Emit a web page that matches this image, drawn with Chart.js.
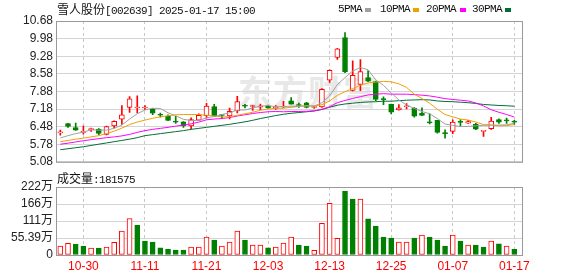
<!DOCTYPE html>
<html>
<head>
<meta charset="utf-8">
<script src="https://cdn.jsdelivr.net/npm/chart.js@4.4.1/dist/chart.umd.min.js"></script>
<style>
body{margin:0;background:#fff;}
#wrap{position:relative;width:578px;height:276px;overflow:hidden;font-family:"Noto Sans CJK SC",sans-serif;}
canvas{position:absolute;left:0;}
.txt{position:absolute;font-size:12px;line-height:14px;color:#111;white-space:nowrap;}
.mono{font-family:"Liberation Mono",monospace;font-size:11px;letter-spacing:-0.6px;}
.sw{position:absolute;width:6px;height:4px;}
#wm{position:absolute;left:238px;top:66px;font-size:34px;font-weight:bold;color:#e8e8e8;letter-spacing:1px;white-space:nowrap;}
</style>
</head>
<body>
<div id="wrap">
  <div id="wm">东方财富</div>
  <canvas id="kline" width="578" height="172" style="top:0"></canvas>
  <canvas id="volume" width="578" height="106" style="top:170px"></canvas>

  <div class="txt" style="left:57px;top:2px">雪人股份<span class="mono">[002639] 2025-01-17 15:00</span></div>

  <div class="txt mono" style="left:338px;top:2px">5PMA</div>
  <div class="sw" style="left:365px;top:8px;background:#a0a0a0"></div>
  <div class="txt mono" style="left:380px;top:2px">10PMA</div>
  <div class="sw" style="left:413px;top:8px;background:#f0a000"></div>
  <div class="txt mono" style="left:426px;top:2px">20PMA</div>
  <div class="sw" style="left:460px;top:8px;background:#ff00ff"></div>
  <div class="txt mono" style="left:472px;top:2px">30PMA</div>
  <div class="sw" style="left:505px;top:8px;background:#006f35"></div>

  <div class="txt" style="left:57px;top:171px">成交量<span class="mono">:181575</span></div>
</div>
<script>
const dates = ['10-25','10-28','10-29','10-30','10-31','11-01','11-04','11-05','11-06','11-07',
  '11-08','11-11','11-12','11-13','11-14','11-15','11-18','11-19','11-20','11-21',
  '11-22','11-25','11-26','11-27','11-28','11-29','12-02','12-03','12-04','12-05',
  '12-06','12-09','12-10','12-11','12-12','12-13','12-16','12-17','12-18','12-19',
  '12-20','12-23','12-24','12-25','12-26','12-27','12-30','12-31','01-02','01-03',
  '01-06','01-07','01-08','01-09','01-10','01-13','01-14','01-15','01-16','01-17']
const opens = [6.23,6.60,6.44,6.25,6.36,6.38,6.17,6.51,6.78,7.24,
  7.22,7.22,7.19,6.94,6.89,6.70,6.67,6.51,6.74,6.91,
  7.28,6.93,6.90,7.10,7.31,7.28,7.25,7.30,7.20,7.25,
  7.50,7.34,7.43,7.24,7.26,8.33,9.23,10.02,7.92,8.16,
  8.43,8.27,7.57,7.37,7.14,7.27,7.22,7.01,6.65,6.73,
  6.22,6.29,6.67,6.62,6.57,6.29,6.40,6.76,6.73,6.67]
const highs = [6.34,6.61,6.62,6.50,6.42,6.40,6.50,6.71,7.32,7.67,
  7.70,7.32,7.20,7.02,6.95,6.89,6.68,6.83,6.99,7.41,
  7.37,6.96,7.22,7.68,7.37,7.33,7.38,7.34,7.32,7.49,
  7.63,7.42,7.45,7.30,7.99,8.74,9.59,10.22,9.10,9.15,
  8.71,8.29,7.66,7.38,7.36,7.40,7.24,7.23,6.99,6.73,
  6.35,6.75,6.76,6.73,6.61,6.30,6.85,6.79,6.82,6.73]
const lows = [6.14,6.45,6.33,6.18,6.29,6.16,6.15,6.43,6.57,7.04,
  7.02,7.15,6.95,6.86,6.72,6.61,6.45,6.39,6.73,6.83,
  6.88,6.80,6.79,7.02,7.22,7.12,7.15,7.20,7.16,7.24,
  7.37,7.24,7.22,7.20,7.24,8.24,9.15,8.62,7.90,7.91,
  8.27,7.51,7.35,6.98,7.13,7.18,6.86,6.91,6.59,6.22,
  6.02,6.20,6.51,6.61,6.36,6.09,6.37,6.61,6.61,6.57]
const closes = [6.25,6.49,6.34,6.27,6.38,6.21,6.48,6.69,6.95,7.58,
  7.25,7.24,7.01,6.93,6.73,6.66,6.51,6.76,6.93,7.30,
  6.91,6.92,7.09,7.48,7.29,7.30,7.31,7.22,7.25,7.30,
  7.37,7.32,7.24,7.26,7.96,8.72,9.57,8.66,8.52,8.67,
  8.29,7.56,7.55,7.05,7.23,7.29,6.89,6.92,6.63,6.25,
  6.20,6.66,6.65,6.68,6.38,6.30,6.70,6.66,6.71,6.66]
const prevClose = 6.15
// 成交量, 万
const volumes = [29.2,38,35.7,29,22.7,22.7,26,41,78,119,
  97,45,42,23,19.5,16,16,26,26,58,
  49,29,42,78,49,32,32,23,26,39,
  58,32,29,15,103,168,54,208,182,182,
  118,94,58,55,42,42,55,65,58,49,
  29,65,45,32,32,26,45,36,29,18.16]
const ma5 = [6.03,6.12,6.20,6.26,6.35,6.34,6.34,6.41,6.54,6.78,
  6.99,7.14,7.21,7.20,7.03,6.91,6.77,6.72,6.72,6.83,
  6.88,6.96,7.03,7.14,7.14,7.22,7.29,7.32,7.27,7.28,
  7.29,7.29,7.30,7.30,7.43,7.70,8.15,8.43,8.69,8.83,
  8.74,8.34,8.12,7.82,7.54,7.34,7.20,7.08,6.99,6.80,
  6.58,6.53,6.48,6.49,6.51,6.53,6.54,6.54,6.55,6.61]
const ma10 = [5.88,5.93,5.98,6.02,6.07,6.12,6.20,6.30,6.42,6.56,
  6.66,6.74,6.81,6.87,6.91,6.95,6.96,6.96,6.96,6.93,
  6.90,6.87,6.87,6.93,6.99,7.05,7.13,7.18,7.21,7.21,
  7.25,7.29,7.31,7.29,7.35,7.50,7.72,7.87,7.99,8.13,
  8.22,8.25,8.28,8.26,8.18,8.04,7.77,7.60,7.41,7.17,
  6.96,6.87,6.78,6.74,6.66,6.56,6.54,6.51,6.52,6.56]
const ma20 = [5.78,5.82,5.87,5.92,5.96,6.00,6.04,6.07,6.11,6.17,
  6.25,6.32,6.37,6.41,6.45,6.50,6.54,6.59,6.66,6.75,
  6.78,6.80,6.84,6.90,6.95,7.00,7.04,7.07,7.08,7.07,
  7.08,7.08,7.09,7.11,7.17,7.27,7.43,7.52,7.60,7.67,
  7.74,7.77,7.79,7.77,7.77,7.77,7.75,7.73,7.70,7.65,
  7.59,7.56,7.53,7.50,7.42,7.30,7.15,7.05,6.96,6.86]
const ma30 = [5.56,5.60,5.64,5.68,5.73,5.78,5.83,5.88,5.93,5.98,
  6.04,6.12,6.16,6.20,6.24,6.28,6.32,6.37,6.41,6.45,
  6.49,6.53,6.57,6.62,6.67,6.73,6.80,6.86,6.92,6.97,
  7.01,7.04,7.07,7.10,7.16,7.25,7.33,7.38,7.41,7.44,
  7.46,7.47,7.49,7.49,7.51,7.53,7.54,7.55,7.54,7.50,
  7.48,7.47,7.45,7.43,7.40,7.36,7.34,7.32,7.31,7.29]

const priceTicks = [5.08,5.78,6.48,7.18,7.88,8.58,9.28,9.98,10.68]
const volTicks = [0,55.39,110.78,166.17,221.56]
const volTickLabels = ['0','55.39万','111万','166万','222万']
const dateTicks = [3,11,19,27,35,43,51,59]

const RED = '#ff0000'
const GREEN = '#008000'
const axisFont = {family:'"Liberation Sans", "Noto Sans CJK SC", sans-serif', size:12}

function candleUp(i) {
  if(closes[i]!==opens[i]) return closes[i]>opens[i]
  return closes[i] >= (i ? closes[i-1] : prevClose)
}

function volumeUp(i) {
  return closes[i] >= (i ? closes[i-1] : prevClose)
}

const framePlugin = {
  id: 'frame',
  afterDraw(chart) {
    const a = chart.chartArea
    const ctx = chart.ctx
    ctx.save()
    ctx.strokeStyle = '#999'
    ctx.lineWidth = 1
    ctx.strokeRect(a.left+0.5, a.top+0.5, a.right-a.left, a.bottom-a.top)
    ctx.restore()
  }
}

function xScale(showLabels) {
  return {
    type: 'linear',
    min: -0.56,
    max: 60,
    offset: false,
    grid: {offset:false, color:'#c8c8c8', drawTicks:false},
    border: {display:false, dash:[3,3]},
    ticks: {
      display: showLabels,
      autoSkip: false,
      maxRotation: 0,
      padding: 4,
      color: RED,
      font: axisFont,
      callback: v => dates[v]
    },
    afterBuildTicks: s => { s.ticks = dateTicks.map(v => ({value:v})) },
    afterFit: s => { s.height = showLabels ? 21 : 0 }
  }
}

function yScale(min, max, ticks, label) {
  return {
    min: min,
    max: max,
    grid: {color:'#d4d4d4', drawTicks:false},
    border: {display:false},
    ticks: {padding:3, autoSkip:false, color:'#222', font:axisFont, callback: label},
    afterBuildTicks: s => { s.ticks = ticks.map(v => ({value:v})) },
    afterFit: s => { s.width = 56 }
  }
}

function maLine(values, color) {
  return {
    type: 'line',
    data: values.map((v, i) => ({x:i, y:v})),
    borderColor: color,
    borderWidth: 1,
    pointRadius: 0,
    tension: 0,
    order: 0
  }
}

const idx = closes.map((c, i) => i)

new Chart(document.getElementById('kline'), {
  type: 'bar',
  data: {
    datasets: [
      maLine(ma5, '#a0a0a0'),
      maLine(ma10, '#f0a000'),
      maLine(ma20, '#ff00ff'),
      maLine(ma30, '#006f35'),
      {
        data: idx.map(i => ({x:i, y:[Math.min(opens[i],closes[i]), Math.max(opens[i],closes[i])]})),
        backgroundColor: idx.map(i => candleUp(i) ? '#ffffff' : GREEN),
        borderColor: idx.map(i => candleUp(i) ? RED : GREEN),
        borderWidth: 1,
        borderSkipped: false,
        barThickness: 5,
        minBarLength: 1,
        grouped: false,
        order: 1
      },
      {
        data: idx.map(i => ({x:i, y:[lows[i], highs[i]]})),
        backgroundColor: idx.map(i => candleUp(i) ? RED : GREEN),
        borderWidth: 0,
        barThickness: 1,
        grouped: false,
        order: 2
      }
    ]
  },
  options: {
    responsive: false,
    animation: false,
    layout: {padding: {left:0, right:56, top:21, bottom:7}},
    plugins: {legend:{display:false}, tooltip:{enabled:false}},
    scales: {
      x: xScale(false),
      y: yScale(5.08, 10.68, priceTicks, v => v.toFixed(2))
    }
  },
  plugins: [framePlugin]
})

new Chart(document.getElementById('volume'), {
  type: 'bar',
  data: {
    datasets: [{
      data: idx.map(i => ({x:i, y:volumes[i]})),
      backgroundColor: idx.map(i => volumeUp(i) ? '#ffffff' : GREEN),
      borderColor: idx.map(i => volumeUp(i) ? RED : GREEN),
      borderWidth: 1,
      borderSkipped: false,
      barThickness: 5,
      grouped: false
    }]
  },
  options: {
    responsive: false,
    animation: false,
    layout: {padding: {left:0, right:56, top:17, bottom:0}},
    plugins: {legend:{display:false}, tooltip:{enabled:false}},
    scales: {
      x: xScale(true),
      y: yScale(0, 221.56, volTicks, (v, i) => volTickLabels[i])
    }
  },
  plugins: [framePlugin]
})
</script>
</body>
</html>
